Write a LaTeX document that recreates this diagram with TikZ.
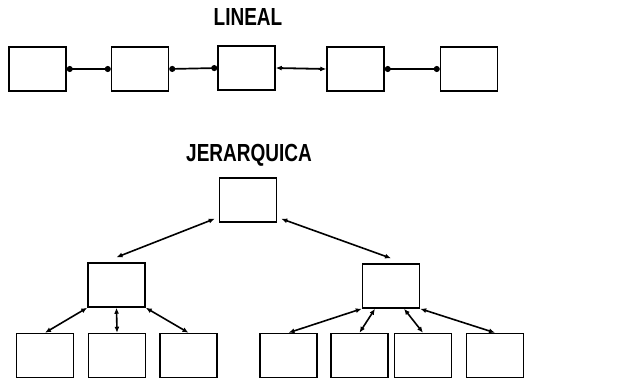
\documentclass[tikz,border=0pt]{standalone}
\usepackage{fontspec}
\setmainfont{Liberation Sans}
\usetikzlibrary{arrows.meta,calc}
\begin{document}
\begin{tikzpicture}[x=1pt,y=-1pt,
  box/.style={draw,line width=1.5pt,minimum width=57pt,minimum height=44pt,inner sep=0pt},
  title/.style={font=\bfseries\fontsize{19}{20}\selectfont,inner sep=0pt},
  dotlink/.style={line width=1.7pt,{Circle[length=6pt]}-{Circle[length=6pt]}},
  arrlink/.style={line width=1.8pt,{Latex[length=6pt,width=5pt]}-{Latex[length=6pt,width=5pt]}},
  treelink/.style={line width=1.6pt,{Latex[length=6pt,width=5pt]}-{Latex[length=6pt,width=5pt]}}]
\useasboundingbox (0,0) rectangle (632,378);
% Linear
\node[title] (t1) at (248,17) {\scalebox{1}[1.3]{LINEAL}};
\node[box] (b1) at (37.5,69) {};
\node[box] (b2) at (140,69) {};
\node[box] (b3) at (246.5,68) {};
\node[box] (b4) at (355.5,69) {};
\node[box] (b5) at (469,69) {};
\draw[dotlink] (b1.east) -- (b2.west);
\draw[dotlink] (b2.east) -- (b3.west);
\draw[arrlink] (b3.east) -- (b4.west);
\draw[dotlink] (b4.east) -- (b5.west);
% Hierarchical
\node[title] (t2) at (249,155) {\scalebox{1}[1.3]{JERARQUICA}};
\node[box] (root) at (248,200) {};
\node[box] (lm) at (116.5,285) {};
\node[box] (rm) at (391,286) {};
\node[box] (l1) at (45,355.5) {};
\node[box] (l2) at (117,355.5) {};
\node[box] (l3) at (188.5,355.5) {};
\node[box] (r1) at (288.5,355.5) {};
\node[box] (r2) at (359.5,355.5) {};
\node[box] (r3) at (423,355.5) {};
\node[box] (r4) at (495,355.5) {};
\draw[treelink] ($(root.south west)+(-4,-4)$) -- ($(lm.north)+(0,-5)$);
\draw[treelink] ($(root.south east)+(4,-4)$) -- ($(rm.north)+(0,-5)$);
\draw[treelink] (lm.south west) -- (l1.north);
\draw[treelink] (lm.south) -- (l2.north);
\draw[treelink] (lm.south east) -- (l3.north);
\draw[treelink] (rm.south west) -- (r1.north);
\draw[treelink] ($(rm.south)+(-16,0)$) -- (r2.north);
\draw[treelink] ($(rm.south)+(13,0)$) -- (r3.north);
\draw[treelink] (rm.south east) -- (r4.north);
\end{tikzpicture}
\end{document}
